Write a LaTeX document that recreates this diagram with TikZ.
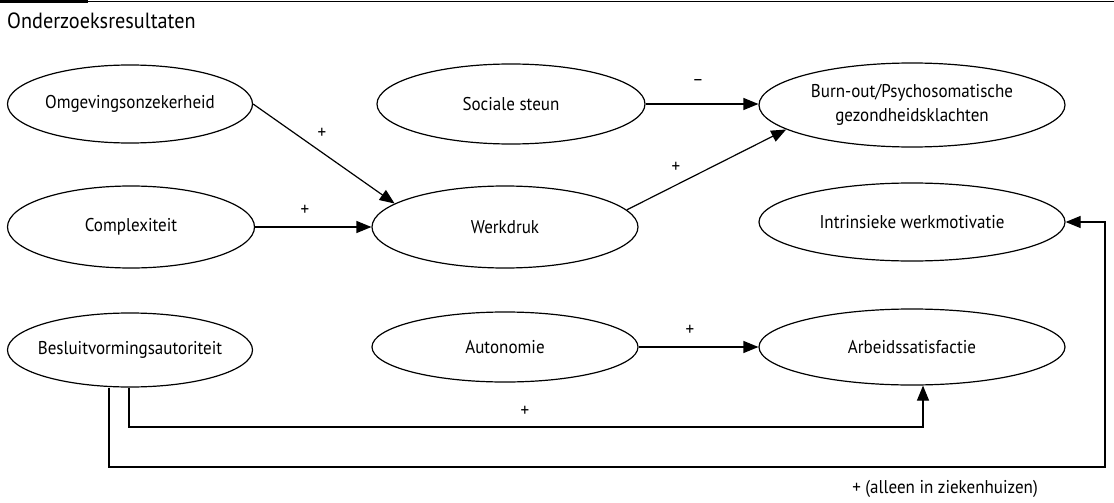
\documentclass[tikz,border=0pt]{standalone}
\usepackage{fontspec}
\setmainfont{PT Sans}[FakeStretch=0.92]
\usetikzlibrary{shapes.geometric,arrows.meta,calc}
\begin{document}
\begin{tikzpicture}[x=1pt,y=-1pt,
  ell/.style={draw, ellipse, line width=1.2pt, inner xsep=-30pt, inner ysep=0pt, align=center,
    font=\fontsize{18.5}{24}\selectfont},
  arr/.style={line width=1.2pt, -{Triangle[length=15pt,width=12pt]}},
  lbl/.style={font=\fontsize{18.5}{22}\selectfont, inner sep=0pt}]
\useasboundingbox (0,0) rectangle (1114,503);
% top rule
\fill (0,0) rectangle (88,3.2);
\draw[line width=1pt] (88,1.2) -- (1114,1.2);
\node[anchor=west, font=\fontsize{22}{24}\selectfont, inner sep=0pt] (title) at (7,21) {Onderzoeksresultaten};
% nodes
\node[ell, minimum width=245pt, minimum height=78pt] (omg) at (130,104) {Omgevingsonzekerheid};
\node[ell, minimum width=247pt, minimum height=82pt] (compl) at (131,227) {Complexiteit};
\node[ell, minimum width=245pt, minimum height=74pt] (besl) at (130,350) {Besluitvormingsautoriteit};
\node[ell, minimum width=268pt, minimum height=80pt] (soc) at (511,104) {Sociale steun};
\node[ell, minimum width=266pt, minimum height=82pt] (werk) at (505,227) {Werkdruk};
\node[ell, minimum width=266pt, minimum height=70pt] (auto) at (505,347) {Autonomie};
\node[ell, minimum width=306pt, minimum height=84pt] (burn) at (912,105) {Burn-out/Psychosomatische\\gezondheidsklachten};
\node[ell, minimum width=306pt, minimum height=78pt] (intr) at (912,222) {Intrinsieke werkmotivatie};
\node[ell, minimum width=306pt, minimum height=76pt] (arb) at (912,347) {Arbeidssatisfactie};
% helper coordinates
\coordinate (b1) at (129,427);
\coordinate (b2) at (109,467);
\coordinate (r2) at (1105,467);
\coordinate (a1) at (923,427);
% connectors
\draw[arr] (omg.east) -- (werk.168);
\draw[arr] (compl.east) -- (werk.west);
\draw[arr] (soc.east) -- (soc.east -| burn.west);
\draw[arr] (werk.8) -- (burn.191);
\draw[arr] (auto.east) -- (arb.west);
\draw[arr] (besl.south -| b1) |- (a1) -- (a1 |- arb.south);
\draw[arr] (besl.south -| b2) |- (r2) |- (intr.east);
% labels
\node[lbl] (l1) at (322,133) {+};
\node[lbl] (l2) at (305,210) {+};
\node[lbl] (l3) at (698,82) {–};
\node[lbl] (l4) at (676,167) {+};
\node[lbl] (l5) at (690,330) {+};
\node[lbl] (l6) at (525,411) {+};
\node[lbl] (l7) at (945,489) {+ (alleen in ziekenhuizen)};
\end{tikzpicture}
\end{document}
